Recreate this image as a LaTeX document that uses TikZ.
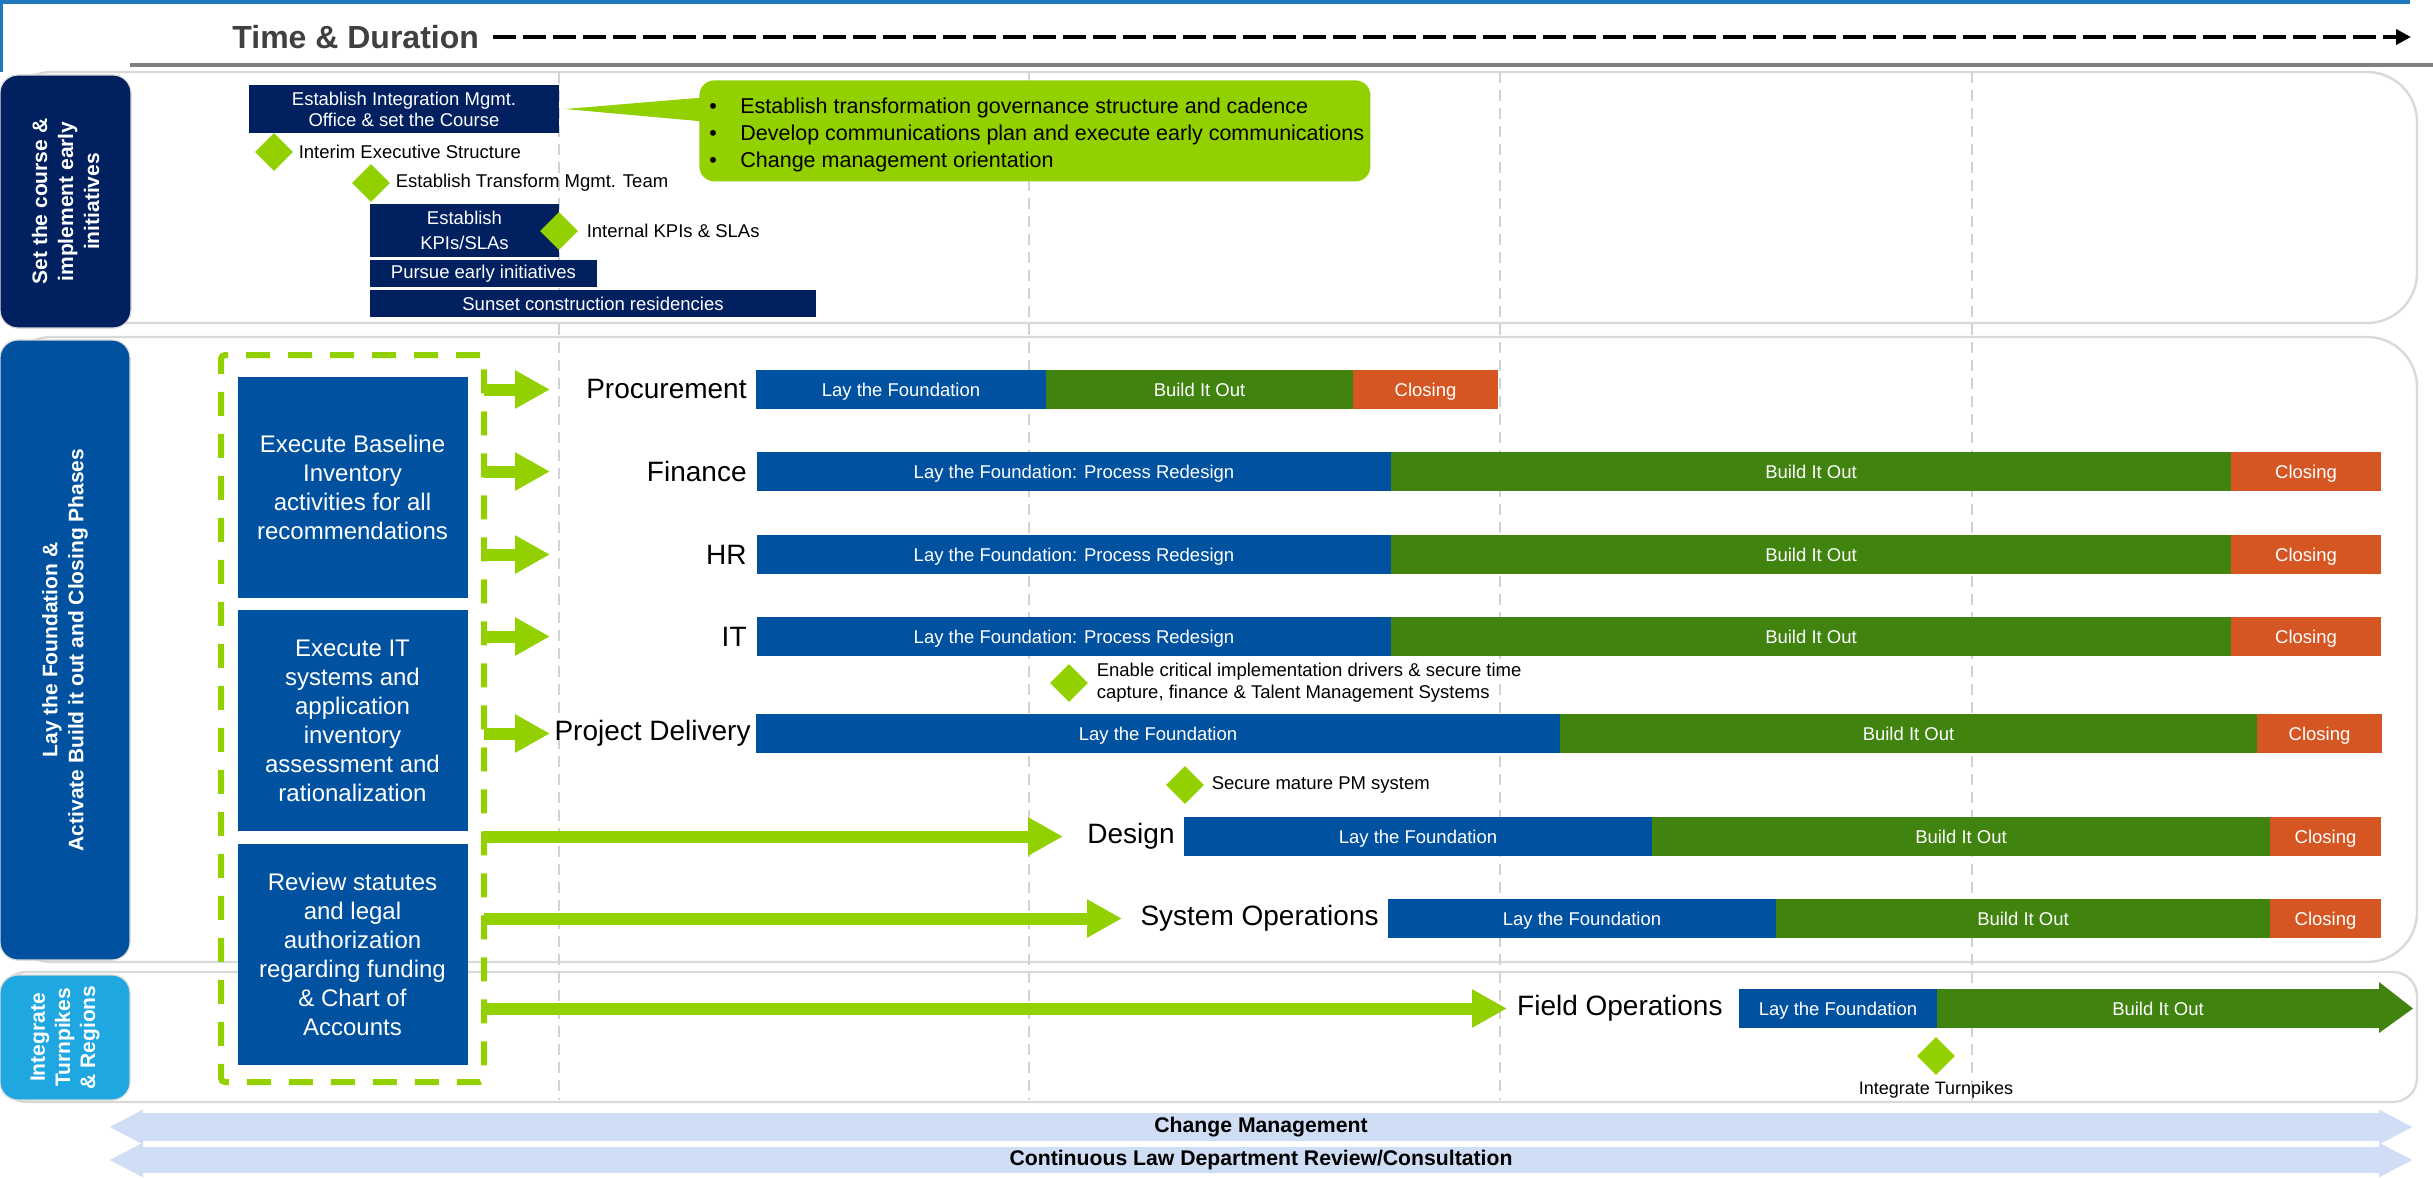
\documentclass[tikz,border=0pt]{standalone}
\usepackage{fontspec}
\setmainfont{Liberation Sans}
\usetikzlibrary{positioning,shapes.geometric,arrows.meta}

\definecolor{navy}{RGB}{0,32,96}
\definecolor{midblue}{RGB}{0,82,160}
\definecolor{skyblue}{RGB}{30,167,225}
\definecolor{lime}{RGB}{146,208,0}
\definecolor{bargreen}{RGB}{65,131,15}
\definecolor{barorange}{RGB}{213,86,35}
\definecolor{cmblue}{RGB}{207,221,245}
\definecolor{rimgray}{RGB}{217,217,217}
\definecolor{gridgray}{RGB}{210,210,210}
\definecolor{topblue}{RGB}{30,120,190}
\definecolor{titlegray}{RGB}{64,64,64}

\begin{document}
\begin{tikzpicture}[x=0.5pt, y=-0.5pt,
        font=\fontsize{9.25}{11}\selectfont,
        >=latex, % Pfeilspitzen
        sect/.style={draw=rimgray, line width=1.2pt, fill=white, rounded corners=25pt,
            inner sep=0pt, outer sep=0pt},
        tag/.style={draw=rimgray, line width=0.6pt, rounded corners=9pt, inner sep=0pt,
            text=white, rotate=90, align=center, font=\bfseries\fontsize{10.5}{13}\selectfont},
        grid/.style={draw=gridgray, line width=1.2pt, dash pattern=on 5.5pt off 3.5pt},
        navybox/.style={fill=navy, text=white, inner sep=0pt, outer sep=0pt, align=center},
        gem/.style={diamond, aspect=1, fill=lime, minimum width=19pt, minimum height=19pt, inner sep=0pt},
        mtext/.style={inner sep=0pt, align=left},
        note/.style={fill=lime, rounded corners=7.5pt, inner sep=0pt,
            minimum width=335.5pt, minimum height=50.5pt},
        notetext/.style={inner sep=0pt, align=left, font=\fontsize{10.75}{13.4}\selectfont},
        task/.style={fill=midblue, text=white, inner sep=0pt, outer sep=0pt, align=center,
            minimum width=115pt, minimum height=110.5pt, font=\fontsize{12}{14.5}\selectfont},
        frame/.style={draw=lime, line width=3pt, dash pattern=on 12pt off 9pt, rounded corners=2pt,
            inner sep=0pt, outer sep=0pt},
        feed/.style={draw=lime, line width=6pt, -{Triangle[length=17.5pt,width=18pt]}},
        bar/.style={minimum height=19.5pt, inner sep=0pt, outer sep=0pt, text=white,
            text height=6.7pt, text depth=0pt},
        lay/.style={bar, fill=midblue},
        build/.style={bar, fill=bargreen},
        closing/.style={bar, fill=barorange},
        row/.style={inner sep=0pt, font=\fontsize{14}{16}\selectfont},
        band/.style={draw=cmblue, line width=14pt,
            {Triangle[length=17pt,width=16pt]}-{Triangle[length=17pt,width=16pt]}},
        bandtext/.style={inner sep=0pt, font=\bfseries\fontsize{10.6}{12}\selectfont}
        ]
    \fill[white] (0,0) rectangle (2433,1178);
    \useasboundingbox (0,0) rectangle (2433,1178);

    % Kopfzeile
    \fill[topblue] (0,0) rectangle (2410,4);
    \fill[topblue] (0,0) rectangle (3,72);
    \node[anchor=west, inner sep=0pt, text=titlegray, font=\bfseries\fontsize{16}{18}\selectfont]
        (title) at (232,37) {Time \& Duration};
    \coordinate (timeEnd) at (2411,37);
    \draw[line width=2pt, dash pattern=on 11.5pt off 3.5pt, -{Triangle[length=7.5pt,width=7.5pt]}]
        ([xshift=7pt]title.east) -- (timeEnd);
    \draw[line width=2pt, gray] (130,65) -- (2433,65);

    % Abschnitte
    \node[sect, minimum width=1207.5pt, minimum height=125.5pt] (sec1) at (1209.5,197.5) {};
    \node[sect, minimum width=1207.5pt, minimum height=312.5pt] (sec2) at (1209.5,649.5) {};
    \node[sect, rounded corners=12pt, minimum width=1207.5pt, minimum height=65pt] (sec3) at (1209.5,1037) {};

    \foreach \gx in {559,1029,1500,1972}
        \draw[grid] (\gx,72) -- (\gx,1100);

    \node[tag, fill=navy, minimum width=126.5pt, minimum height=65.5pt] (tag1) at (65.5,201.5)
        {Set the course \&\\implement early\\initiatives};
    \node[tag, fill=midblue, minimum width=310pt, minimum height=65pt] (tag2) at (65,650)
        {Lay the Foundation \&\\Activate Build it out and Closing Phases};
    \node[tag, fill=skyblue, minimum width=62.5pt, minimum height=65pt, font=\bfseries\fontsize{10.5}{12.5}\selectfont]
        (tag3) at (65,1037.5) {Integrate\\Turnpikes\\\& Regions};

    % Kurs setzen
    \node[navybox, minimum width=155pt, minimum height=24pt, font=\fontsize{9.25}{10.5}\selectfont]
        (imo) at (404,109) {Establish Integration Mgmt.\\Office \& set the Course};
    \node[navybox, minimum width=94.5pt, minimum height=26.5pt, font=\fontsize{9.25}{12.5}\selectfont]
        (kpi) at (464.5,230.5) {Establish\\KPIs/SLAs};
    \node[navybox, minimum width=113.5pt, minimum height=13.5pt] (early) at (483.5,273.5) {Pursue early initiatives};
    \node[navybox, minimum width=223pt, minimum height=13.5pt] (sunset) at (593,303.5) {Sunset construction residencies};

    \node[gem] (ies) at (274,152) {};
    \node[mtext, right=2.5pt of ies] (iesT) {Interim Executive Structure};
    \node[gem] (tmt) at (371,183) {};
    \node[mtext, right=2.5pt of tmt] (tmtT) {Establish Transform Mgmt. Team};
    \node[gem] (ikpi) at (559,231) {};
    \node[mtext, right=4pt of ikpi] (ikpiT) {Internal KPIs \& SLAs};

    \node[note, anchor=north west] (note) at (699,80) {};
    \node[notetext, anchor=west, yshift=-2pt] (noteT) at ([xshift=5pt]note.west)
        {\makebox[15.5pt][l]{\textbullet}Establish transformation governance structure and cadence\\
         \makebox[15.5pt][l]{\textbullet}Develop communications plan and execute early communications\\
         \makebox[15.5pt][l]{\textbullet}Change management orientation};
    \fill[lime] ([xshift=3pt]imo.east) -- ([xshift=5pt,yshift=-8.5pt]note.north west)
        -- ([xshift=5pt,yshift=-21pt]note.north west) -- cycle;

    % Aufgaben
    \node[frame, minimum width=131.5pt, minimum height=363.5pt] (frame) at (352.5,718.5) {};
    \node[task] (base) at (352.5,487.5) {Execute Baseline\\Inventory\\activities for all\\recommendations};
    \node[task, below=6pt of base] (itsys) {Execute IT\\systems and\\application\\inventory\\assessment and\\rationalization};
    \node[task, below=6.5pt of itsys] (legal) {Review statutes\\and legal\\authorization\\regarding funding\\\& Chart of\\Accounts};

    % Balken
    \node[lay, minimum width=145pt, anchor=west] (procA) at (756,389.5) {Lay the Foundation};
    \node[build, minimum width=153.5pt, right=0pt of procA] (procB) {Build It Out};
    \node[closing, minimum width=72.5pt, right=0pt of procB] (procC) {Closing};
    \node[row, left=4.5pt of procA] (procL) {Procurement};

    \node[lay, minimum width=317pt, anchor=west] (finA) at (757,471.5) {Lay the Foundation: Process Redesign};
    \node[build, minimum width=420pt, right=0pt of finA] (finB) {Build It Out};
    \node[closing, minimum width=75pt, right=0pt of finB] (finC) {Closing};
    \node[row, left=5pt of finA] (finL) {Finance};

    \node[lay, minimum width=317pt, anchor=west] (hrA) at (757,554.5) {Lay the Foundation: Process Redesign};
    \node[build, minimum width=420pt, right=0pt of hrA] (hrB) {Build It Out};
    \node[closing, minimum width=75pt, right=0pt of hrB] (hrC) {Closing};
    \node[row, left=5pt of hrA] (hrL) {HR};

    \node[lay, minimum width=317pt, anchor=west] (itA) at (757,636.5) {Lay the Foundation: Process Redesign};
    \node[build, minimum width=420pt, right=0pt of itA] (itB) {Build It Out};
    \node[closing, minimum width=75pt, right=0pt of itB] (itC) {Closing};
    \node[row, left=5pt of itA] (itL) {IT};

    \node[gem] (drv) at (1069,683) {};
    \node[mtext, right=4pt of drv] (drvT) {Enable critical implementation drivers \& secure time\\capture, finance \& Talent Management Systems};

    \node[lay, minimum width=402pt, anchor=west] (pdA) at (756,733.5) {Lay the Foundation};
    \node[build, minimum width=348.5pt, right=0pt of pdA] (pdB) {Build It Out};
    \node[closing, minimum width=62.5pt, right=0pt of pdB] (pdC) {Closing};
    \node[row, left=2.5pt of pdA] (pdL) {Project Delivery};

    \node[gem] (pm) at (1185,785) {};
    \node[mtext, right=3.5pt of pm] (pmT) {Secure mature PM system};

    \node[lay, minimum width=234pt, anchor=west] (desA) at (1184,836.5) {Lay the Foundation};
    \node[build, minimum width=309pt, right=0pt of desA] (desB) {Build It Out};
    \node[closing, minimum width=55.5pt, right=0pt of desB] (desC) {Closing};
    \node[row, left=4.5pt of desA] (desL) {Design};

    \node[lay, minimum width=194pt, anchor=west] (sysA) at (1388,918.5) {Lay the Foundation};
    \node[build, minimum width=247pt, right=0pt of sysA] (sysB) {Build It Out};
    \node[closing, minimum width=55.5pt, right=0pt of sysB] (sysC) {Closing};
    \node[row, left=4.5pt of sysA] (sysL) {System Operations};

    \node[lay, minimum width=99pt, anchor=west] (fldA) at (1739,1008.5) {Lay the Foundation};
    \node[build, minimum width=221pt, right=0pt of fldA] (fldB) {Build It Out};
    \fill[bargreen] ([yshift=3.5pt]fldB.north east) -- ([xshift=17pt]fldB.east)
        -- ([yshift=-2.5pt]fldB.south east) -- cycle;
    \node[row, left=8pt of fldA] (fldL) {Field Operations};

    \node[gem] (tpk) at (1936,1056) {};
    \node[mtext, below=3pt of tpk, font=\fontsize{9}{11}\selectfont] (tpkT) {Integrate Turnpikes};

    % Pfeile
    \coordinate (procT) at (550,0 |- procA.west);
    \coordinate (finT)  at (550,0 |- finA.west);
    \coordinate (hrT)   at (550,0 |- hrA.west);
    \coordinate (itT)   at (550,0 |- itA.west);
    \coordinate (pdT)   at (550,0 |- pdA.west);
    \coordinate (desT)  at (1063,0 |- desA.west);
    \coordinate (sysT)  at (1122,0 |- sysA.west);
    \coordinate (fldT)  at (1507,0 |- fldA.west);
    \foreach \r in {proc,fin,hr,it,pd,des,sys,fld}
        \draw[feed] (frame.east |- \r A.west) -- (\r T);

    % Querschnitt
    \coordinate (cmL) at (109,1127);
    \coordinate (cmR) at (2413,1127);
    \draw[band] (cmL) -- (cmR) node[midway, bandtext] (cmT) {Change Management};
    \coordinate (lawL) at (109,1160);
    \coordinate (lawR) at (2413,1160);
    \draw[band, line width=13pt] (lawL) -- (lawR)
        node[midway, bandtext] (lawT) {Continuous Law Department Review/Consultation};

\end{tikzpicture}
\end{document}
